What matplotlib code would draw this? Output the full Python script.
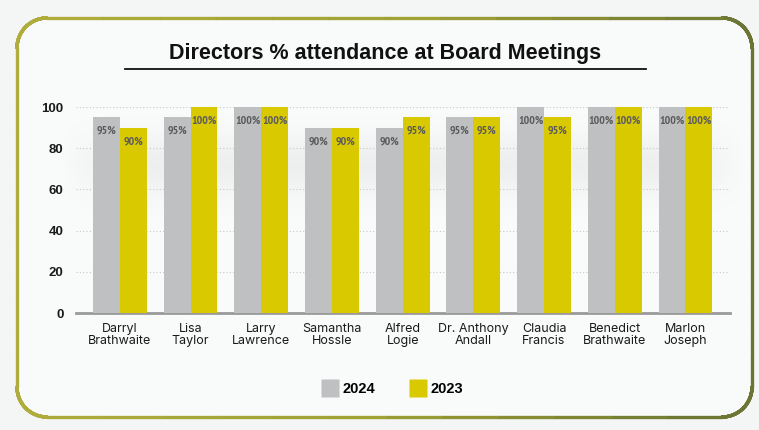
import numpy as np
import matplotlib.pyplot as plt
from matplotlib import font_manager
from matplotlib.collections import LineCollection
from matplotlib.colors import LinearSegmentedColormap
from matplotlib.lines import Line2D

directors = ['Darryl\nBrathwaite', 'Lisa\nTaylor', 'Larry\nLawrence', 'Samantha\nHossle',
             'Alfred\nLogie', 'Dr. Anthony\nAndall', 'Claudia\nFrancis', 'Benedict\nBrathwaite',
             'Marlon\nJoseph']
att_2024 = [95, 95, 100, 90, 90, 95, 100, 100, 100]
att_2023 = [90, 100, 100, 90, 95, 95, 95, 100, 100]
yticks = [0, 20, 40, 60, 80, 100]

grey = '#bfc0c2'
yellow = '#d9c900'

# a bold narrow face for the value labels, if one is installed
cands = [f for f in font_manager.fontManager.ttflist
         if ('Narrow' in f.name or 'Condensed' in f.name) and f.style == 'normal']
cands.sort(key=lambda f: (-(f.weight in ('bold', 700, 'Bold')), 'Narrow' not in f.name))
if cands:
    val_font = font_manager.FontProperties(fname=cands[0].fname, size=8.5)
else:
    val_font = font_manager.FontProperties(family='Liberation Sans', weight='bold', size=6.2)

W, H = 759, 430
fig = plt.figure(figsize=(W / 100, H / 100), dpi=100)
fig.patch.set_facecolor('#f3f6f4')

# background layer in pixel coords, for the rounded frame
bg = fig.add_axes([0, 0, 1, 1])
bg.set_xlim(0, W)
bg.set_ylim(H, 0)
bg.axis('off')

def rounded_rect(x0, y0, x1, y1, r, n=30):
    pts = []
    corners = [(x1 - r, y0 + r, -90, 0), (x1 - r, y1 - r, 0, 90),
               (x0 + r, y1 - r, 90, 180), (x0 + r, y0 + r, 180, 270)]
    for cx, cy, a0, a1 in corners:
        t = np.radians(np.linspace(a0, a1, n))
        pts += list(zip(cx + r * np.cos(t), cy + r * np.sin(t)))
    pts.append(pts[0])
    return np.array(pts)

frame = rounded_rect(17, 18, 752, 417, 30)
bg.fill(frame[:, 0], frame[:, 1], color='#f9fbfa', zorder=0)

# gradient border, olive yellow on the left to dark olive on the right
dense = []
for a, b in zip(frame[:-1], frame[1:]):
    for s in np.linspace(0, 1, 12, endpoint=False):
        dense.append(a + (b - a) * s)
dense.append(frame[-1])
dense = np.array(dense)
segs = np.stack([dense[:-1], dense[1:]], axis=1)
cmap = LinearSegmentedColormap.from_list('frame', ['#b0ad3c', '#a0a236', '#6b7433'])
lc = LineCollection(segs, cmap=cmap, linewidths=2.4, capstyle='round')
lc.set_array((segs[:, 0, 0] - 17) / (752 - 17))
lc.set_clim(0, 1)
bg.add_collection(lc)

# soft shadow behind bars
yy, xx = np.mgrid[0:H, 0:W]
shadow = np.exp(-((yy - 165) / 28.0) ** 2) * np.clip((xx - 60) / 60, 0, 1) * np.clip((745 - xx) / 60, 0, 1)
sh_rgba = np.zeros((H, W, 4))
sh_rgba[..., :3] = 0.6
sh_rgba[..., 3] = shadow * 0.12
bg.imshow(sh_rgba, extent=(0, W, H, 0), zorder=1, aspect='auto')

# title and underline
fig.text(385 / W, 1 - 53 / H, 'Directors % attendance at Board Meetings',
         ha='center', va='center', fontsize=15.5, fontweight='bold',
         family='Liberation Sans', color='#111111')
bg.plot([125, 646], [69, 69], color='#111111', lw=1.3, zorder=2)

ax = fig.add_axes([76 / W, 1 - 313 / H, 654 / W, 206 / H])
ax.patch.set_alpha(0)
x = np.arange(len(directors))
bw = 0.38
b1 = ax.bar(x - bw / 2, att_2024, bw, color=grey, zorder=3, label='2024')
b2 = ax.bar(x + bw / 2, att_2023, bw, color=yellow, zorder=3, label='2023')

for bars in (b1, b2):
    for rect in bars:
        v = rect.get_height()
        ax.annotate(f'{v:.0f}%', (rect.get_x() + rect.get_width() / 2, v),
                    xytext=(0, -13.5), textcoords='offset pixels', ha='center', va='center',
                    fontproperties=val_font, color='#5c5c5c', zorder=4)

ax.set_xlim(-0.62, len(directors) - 1 + 0.63)
ax.set_ylim(0, 100)
ax.set_yticks(yticks)
ax.set_yticklabels([str(t) for t in yticks], fontsize=9.5, fontweight='bold', color='#1a1a1a',
                   family='Liberation Sans')
ax.set_xticks(x)
ax.set_xticklabels(directors, fontsize=9, color='#1a1a1a', linespacing=1.0, family='Inter')
ax.tick_params(axis='both', length=0)
ax.tick_params(axis='y', pad=9)
ax.tick_params(axis='x', pad=7)

ax.yaxis.grid(True, linestyle=(0, (1, 2)), color='#c8c8c8', lw=0.8, zorder=0)
for sp in ['top', 'right', 'left']:
    ax.spines[sp].set_visible(False)
ax.spines['bottom'].set_color('#9a9a9a')
ax.spines['bottom'].set_linewidth(2)

handles = [Line2D([], [], marker='s', color='none', markerfacecolor=grey, markeredgecolor='none', markersize=13.5),
           Line2D([], [], marker='s', color='none', markerfacecolor=yellow, markeredgecolor='none', markersize=13.5)]
leg = fig.legend(handles, ['2024', '2023'], loc='center', bbox_to_anchor=(393 / W, 1 - 389 / H),
                 ncol=2, frameon=False, handlelength=1.0, handletextpad=0.35, columnspacing=2.4,
                 prop={'family': 'Liberation Sans', 'weight': 'bold', 'size': 10.5})

fig.savefig('out.png', dpi=100, facecolor=fig.get_facecolor())
